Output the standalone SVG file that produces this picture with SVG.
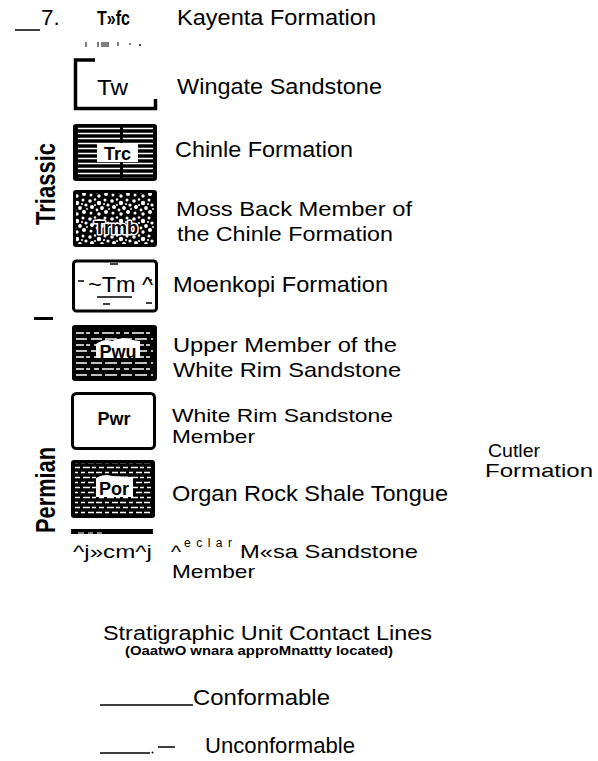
<svg xmlns="http://www.w3.org/2000/svg" width="598" height="761" viewBox="0 0 598 761">
<style>
text{font-family:"Liberation Sans",Arial,Helvetica,sans-serif;fill:#000}
.lbl{font-size:22.5px}
.tl{font-size:18.5px}
.b{font-weight:bold}
.era{font-size:28px;font-weight:bold}
.sym{font-weight:bold;font-size:18px;text-anchor:middle}
.halo{stroke:#fff;stroke-width:3px;paint-order:stroke;stroke-linejoin:round}
.wl{stroke:#fff;stroke-width:1.4;fill:none}
</style>
<defs>
<pattern id="stripes" width="90" height="5" patternUnits="userSpaceOnUse" x="0" y="1">
<rect width="90" height="5" fill="#000"/>
<path d="M0 2.5H30M33 2.5H90" class="wl"/>
</pattern>
<pattern id="speckle" width="22" height="18" patternUnits="userSpaceOnUse">
<rect width="22" height="18" fill="#000"/>
<g fill="#fff">
<circle cx="2" cy="3" r="1.8"/><circle cx="7" cy="1.5" r="1.2"/><circle cx="11" cy="5" r="2.2"/>
<circle cx="17" cy="2" r="1.5"/><circle cx="20" cy="7" r="1.6"/><circle cx="4" cy="9" r="2"/>
<circle cx="9" cy="12" r="1.4"/><circle cx="14" cy="10" r="1.9"/><circle cx="18" cy="14" r="2"/>
<circle cx="3" cy="15" r="1.5"/><circle cx="11" cy="16" r="1.7"/><circle cx="7" cy="7" r="1"/>
<circle cx="16" cy="6" r="1"/><circle cx="21" cy="11" r="0.9"/>
</g>
</pattern>
<pattern id="dashA" width="30" height="12" patternUnits="userSpaceOnUse">
<rect width="30" height="12" fill="#000"/>
<path d="M1 3H12M15 3H27M4 9H9M12 9H24M26 9H30" class="wl"/>
</pattern>
<pattern id="dashB" width="24" height="10" patternUnits="userSpaceOnUse">
<rect width="24" height="10" fill="#000"/>
<path d="M0 2.5H6M9 2.5H13M16 2.5H22M3 7.5H8M11 7.5H18M20 7.5H24" class="wl"/>
</pattern>
</defs>

<g id="kayenta">
<path d="M15 30H40" stroke="#000" stroke-width="1.5"/>
<text class="lbl" x="41" y="25">7.</text>
<text class="b" x="97" y="25" font-size="21" textLength="33" lengthAdjust="spacingAndGlyphs">T»fc</text>
<text class="lbl" x="177" y="25" textLength="199" lengthAdjust="spacingAndGlyphs">Kayenta Formation</text>
<path d="M86 42V47M98 42V47M102 42V47M104 42V47M106 42V47M108 42V47M118 42V46M130 43V45" stroke="#000" stroke-width="1"/>
<circle cx="140" cy="45" r="1" fill="#000"/>
</g>

<g id="wingate">
<path d="M95 60H75.5V108.5H155.5V99" fill="none" stroke="#000" stroke-width="3.5"/>
<text class="lbl" x="97" y="95" textLength="31" lengthAdjust="spacingAndGlyphs">Tw</text>
<text class="lbl" x="177" y="94" textLength="205" lengthAdjust="spacingAndGlyphs">Wingate Sandstone</text>
</g>

<g id="chinle">
<rect x="73" y="124" width="84" height="57" rx="3" fill="#000"/>
<rect x="78" y="127" width="75" height="51" fill="url(#stripes)"/>
<rect x="97" y="143" width="41" height="19" fill="#fff"/>
<text class="sym" x="117.5" y="160" font-size="20">Trc</text>
<text class="lbl" x="175" y="157" textLength="178" lengthAdjust="spacingAndGlyphs">Chinle Formation</text>
</g>

<g id="mossback">
<rect x="73" y="190" width="84" height="57" rx="3" fill="#000"/>
<rect x="76" y="193" width="78" height="51" fill="url(#speckle)"/>
<text class="sym halo" x="116" y="234" font-size="19">Trmb</text>
<text class="lbl" x="176" y="216" font-size="21" textLength="236" lengthAdjust="spacingAndGlyphs" style="font-size:21px">Moss Back Member of</text>
<text class="lbl" x="177" y="241" textLength="216" lengthAdjust="spacingAndGlyphs" style="font-size:21px">the Chinle Formation</text>
</g>

<g id="moenkopi">
<rect x="73.5" y="261" width="83" height="50" rx="3" fill="#fff" stroke="#000" stroke-width="3"/>
<path d="M78 281H84M110 264H118M97 297H132M103 304H110M146 303H152M149 280H152" stroke="#000" stroke-width="1.5"/>
<text class="lbl" x="88" y="292" textLength="65" lengthAdjust="spacingAndGlyphs">~Tm ^</text>
<text class="lbl" x="173" y="292" textLength="215" lengthAdjust="spacingAndGlyphs">Moenkopi Formation</text>
</g>

<g id="whiterim-upper">
<rect x="72" y="325" width="85" height="56" rx="3" fill="#000"/>
<rect x="76" y="329" width="77" height="48" fill="url(#dashA)"/>
<path d="M96 344Q105 338 112 341Q122 336 132 340L140 341V358H96Z" fill="#fff"/>
<text class="sym" x="118" y="358" font-size="18">Pwu</text>
<text class="lbl" x="173" y="352" textLength="224" lengthAdjust="spacingAndGlyphs" style="font-size:21px">Upper Member of the</text>
<text class="lbl" x="173" y="377" textLength="228" lengthAdjust="spacingAndGlyphs" style="font-size:21px">White Rim Sandstone</text>
</g>

<g id="whiterim">
<rect x="72.5" y="393.5" width="82" height="55" rx="4" fill="#fff" stroke="#000" stroke-width="3"/>
<text class="sym" x="114" y="425" font-size="17">Pwr</text>
<text class="tl" x="172" y="422" textLength="221" lengthAdjust="spacingAndGlyphs">White Rim Sandstone</text>
<text class="tl" x="172" y="443" textLength="83" lengthAdjust="spacingAndGlyphs">Member</text>
</g>

<g id="organrock">
<rect x="71" y="460" width="84" height="58" rx="3" fill="#000"/>
<rect x="75" y="463" width="76" height="52" fill="url(#dashB)"/>
<path d="M96 478Q104 473 112 476L133 477V497H96Z" fill="#fff"/>
<text class="sym" x="114" y="495" font-size="19">Por</text>
<text class="lbl" x="172" y="501" textLength="276" lengthAdjust="spacingAndGlyphs">Organ Rock Shale Tongue</text>
</g>

<g id="cutler">
<text class="tl" x="488" y="457" textLength="52" lengthAdjust="spacingAndGlyphs">Cutler</text>
<text class="tl" x="485" y="477" textLength="108" lengthAdjust="spacingAndGlyphs">Formation</text>
</g>

<g id="cedarmesa">
<rect x="71" y="529" width="82" height="5" fill="#000"/>
<path d="M78 533H84M88 533H93M97 533H102" stroke="#fff" stroke-width="1"/>
<text class="tl" x="73" y="558" textLength="79" lengthAdjust="spacingAndGlyphs">^j»cm^j</text>
<text class="tl" x="171" y="558" textLength="10" lengthAdjust="spacingAndGlyphs">^</text>
<text x="184" y="547" font-size="12" textLength="48" lengthAdjust="spacing">eclar</text>
<text class="tl" x="240" y="558" textLength="178" lengthAdjust="spacingAndGlyphs">M«sa Sandstone</text>
<text class="tl" x="172" y="578" textLength="83" lengthAdjust="spacingAndGlyphs">Member</text>
</g>

<g id="periods">
<text class="era" transform="translate(55,225) rotate(-90)" textLength="82" lengthAdjust="spacingAndGlyphs">Triassic</text>
<rect x="34" y="317" width="19" height="3" fill="#000"/>
<text class="era" transform="translate(55,533) rotate(-90)" textLength="86" lengthAdjust="spacingAndGlyphs">Permian</text>
</g>

<g id="legend">
<text x="103" y="640" font-size="20" textLength="329" lengthAdjust="spacingAndGlyphs">Stratigraphic Unit Contact Lines</text>
<text class="b" x="125" y="655" font-size="12.5" textLength="268" lengthAdjust="spacingAndGlyphs">(OaatwO wnara approMnattty located)</text>
<text x="193" y="705" font-size="22" textLength="137" lengthAdjust="spacingAndGlyphs">Conformable</text>
<text x="205" y="753" font-size="22" textLength="150" lengthAdjust="spacingAndGlyphs">Unconformable</text>
</g>

<g id="connectors">
<path d="M100 705H193" stroke="#000" stroke-width="1.5"/>
<path d="M100 753H150" stroke="#000" stroke-width="1.5"/>
<circle cx="152.5" cy="752.5" r="1" fill="#000"/>
<path d="M158 747H175" stroke="#000" stroke-width="1.5"/>
</g>
</svg>
